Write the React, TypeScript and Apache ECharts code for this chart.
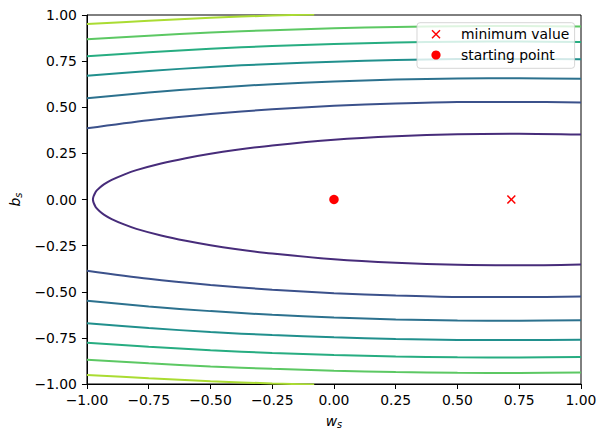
import React, { useEffect, useRef } from "react";
import * as echarts from "echarts";

// Tick values and labels (shared by both axes)
const TICK_VALUES = [-1, -0.75, -0.5, -0.25, 0, 0.25, 0.5, 0.75, 1];
const TICK_LABELS = ["\u22121.00", "\u22120.75", "\u22120.50", "\u22120.25", "0.00", "0.25", "0.50", "0.75", "1.00"];

// Contour colours (viridis levels)
const LEVEL_COLORS = ["#472c7a", "#3b518b", "#2c718e", "#21908d", "#27ad81", "#5cc863", "#aadc32"];

// Innermost closed contour (ellipse), [w_s, b_s]
const contour1 = [
  [1, 0.352], [0.75, 0.357], [0.5, 0.354], [0.25, 0.343], [0, 0.324], [-0.25, 0.293],
  [-0.4, 0.268], [-0.5, 0.248], [-0.6, 0.224], [-0.7, 0.195], [-0.8, 0.159], [-0.85, 0.135],
  [-0.9, 0.106], [-0.93, 0.083], [-0.95, 0.062], [-0.965, 0.041], [-0.976, 0],
  [-0.965, -0.041], [-0.95, -0.062], [-0.93, -0.083], [-0.9, -0.106], [-0.85, -0.135],
  [-0.8, -0.159], [-0.7, -0.195], [-0.6, -0.224], [-0.5, -0.248], [-0.4, -0.268],
  [-0.25, -0.293], [0, -0.324], [0.25, -0.343], [0.5, -0.354], [0.75, -0.357], [1, -0.352],
];

// Open contours, upper branches
const contour2Top = [[-1, 0.386], [-0.75, 0.43], [-0.5, 0.463], [-0.25, 0.489], [0, 0.508], [0.25, 0.52], [0.5, 0.528], [0.75, 0.529], [1, 0.526]];
const contour3Top = [[-1, 0.549], [-0.75, 0.58], [-0.5, 0.605], [-0.25, 0.625], [0, 0.64], [0.25, 0.65], [0.5, 0.656], [0.75, 0.657], [1, 0.655]];
const contour4Top = [[-1, 0.671], [-0.75, 0.697], [-0.5, 0.718], [-0.25, 0.735], [0, 0.747], [0.25, 0.756], [0.5, 0.761], [0.75, 0.762], [1, 0.76]];
const contour5Top = [[-1, 0.776], [-0.75, 0.798], [-0.5, 0.817], [-0.25, 0.832], [0, 0.843], [0.25, 0.851], [0.5, 0.855], [0.75, 0.856], [1, 0.854]];
const contour6Top = [[-1, 0.868], [-0.75, 0.888], [-0.5, 0.905], [-0.25, 0.918], [0, 0.928], [0.25, 0.935], [0.5, 0.939], [0.75, 0.94], [1, 0.938]];
const contour7Top = [[-1, 0.951], [-0.75, 0.969], [-0.5, 0.985], [-0.25, 0.997], [-0.17, 1.0], [-0.08, 1.003]];

// Open contours, lower branches
const contour2Bottom = [[-1, -0.386], [-0.75, -0.43], [-0.5, -0.463], [-0.25, -0.489], [0, -0.508], [0.25, -0.52], [0.5, -0.528], [0.75, -0.529], [1, -0.526]];
const contour3Bottom = [[-1, -0.549], [-0.75, -0.58], [-0.5, -0.605], [-0.25, -0.625], [0, -0.64], [0.25, -0.65], [0.5, -0.656], [0.75, -0.657], [1, -0.655]];
const contour4Bottom = [[-1, -0.671], [-0.75, -0.697], [-0.5, -0.718], [-0.25, -0.735], [0, -0.747], [0.25, -0.756], [0.5, -0.761], [0.75, -0.762], [1, -0.76]];
const contour5Bottom = [[-1, -0.776], [-0.75, -0.798], [-0.5, -0.817], [-0.25, -0.832], [0, -0.843], [0.25, -0.851], [0.5, -0.855], [0.75, -0.856], [1, -0.854]];
const contour6Bottom = [[-1, -0.868], [-0.75, -0.888], [-0.5, -0.905], [-0.25, -0.918], [0, -0.928], [0.25, -0.935], [0.5, -0.939], [0.75, -0.94], [1, -0.938]];
const contour7Bottom = [[-1, -0.951], [-0.75, -0.969], [-0.5, -0.985], [-0.25, -0.997], [-0.17, -1.0], [-0.08, -1.003]];

// Points
const minimumValue = [[0.718, 0]];
const startingPoint = [[0, 0]];

// Legend entries
const LEGEND_LABELS = ["minimum value", "starting point"];

const FONT = "DejaVu Sans";
const X_PATH = "path://M0,1.2L1.2,0L5,3.8L8.8,0L10,1.2L6.2,5L10,8.8L8.8,10L5,6.2L1.2,10L0,8.8L3.8,5Z";

const fmt = (v: number) => {
  const i = TICK_VALUES.findIndex((t) => Math.abs(t - v) < 1e-9);
  return i >= 0 ? TICK_LABELS[i] : "";
};

export default function App() {
  const ref = useRef<HTMLDivElement>(null);
  useEffect(() => {
    if (!ref.current) return;
    const chart = echarts.init(ref.current, undefined, { renderer: "svg" });
    const contours: { data: number[][]; level: number }[] = [
      { data: contour1, level: 0 },
      { data: contour2Top, level: 1 }, { data: contour2Bottom, level: 1 },
      { data: contour3Top, level: 2 }, { data: contour3Bottom, level: 2 },
      { data: contour4Top, level: 3 }, { data: contour4Bottom, level: 3 },
      { data: contour5Top, level: 4 }, { data: contour5Bottom, level: 4 },
      { data: contour6Top, level: 5 }, { data: contour6Bottom, level: 5 },
      { data: contour7Top, level: 6 }, { data: contour7Bottom, level: 6 },
    ];
    const axisCommon = {
      type: "value" as const,
      min: -1,
      max: 1,
      interval: 0.25,
      splitLine: { show: false },
      axisLine: { show: true, onZero: false, lineStyle: { color: "#000", width: 1 } },
      axisTick: { show: true, length: 5, lineStyle: { color: "#000", width: 1 } },
      axisLabel: { color: "#000", fontSize: 13.9, fontFamily: FONT, formatter: fmt },
    };
    const nameRich = {
      i: { fontFamily: FONT, fontStyle: "italic" as const, fontSize: 13.9, color: "#000" },
      s: { fontFamily: FONT, fontStyle: "italic" as const, fontSize: 9.7, color: "#000", padding: [7, 0, 0, 0] },
    };
    const legendLeft = 417;
    const legendTop = 22.7;
    const rowY = [34.3, 55];
    const markerX = 436;
    chart.setOption({
      animation: false,
      backgroundColor: "#fff",
      grid: { left: 86, right: 25, top: 15, bottom: 54, show: true, borderColor: "#000", borderWidth: 1, backgroundColor: "transparent" },
      xAxis: {
        ...axisCommon,
        axisLabel: { ...axisCommon.axisLabel, margin: 9 },
        name: "{i|w}{s|s}",
        nameLocation: "middle",
        nameGap: 28,
        nameTextStyle: { rich: nameRich },
      },
      yAxis: {
        ...axisCommon,
        axisLabel: { ...axisCommon.axisLabel, margin: 10 },
        name: "{i|b}{s|s}",
        nameLocation: "middle",
        nameGap: 60,
        nameTextStyle: { rich: nameRich },
      },
      graphic: [
        {
          type: "rect",
          z: 100,
          shape: { x: legendLeft, y: legendTop, width: 157.6, height: 45.6, r: 3 },
          style: { fill: "rgba(255,255,255,0.8)", stroke: "rgba(204,204,204,0.8)", lineWidth: 1 },
        },
        {
          type: "line",
          z: 101,
          shape: { x1: markerX - 4, y1: rowY[0] - 4, x2: markerX + 4, y2: rowY[0] + 4 },
          style: { stroke: "#ff0000", lineWidth: 1.4 },
        },
        {
          type: "line",
          z: 101,
          shape: { x1: markerX + 4, y1: rowY[0] - 4, x2: markerX - 4, y2: rowY[0] + 4 },
          style: { stroke: "#ff0000", lineWidth: 1.4 },
        },
        {
          type: "circle",
          z: 101,
          shape: { cx: markerX, cy: rowY[1], r: 4.6 },
          style: { fill: "#ff0000" },
        },
        ...LEGEND_LABELS.map((label, i) => ({
          type: "text" as const,
          z: 101,
          x: 461,
          y: rowY[i],
          style: { text: label, fill: "#000", font: `13.9px '${FONT}'`, verticalAlign: "middle", align: "left" },
        })),
      ],
      series: [
        ...contours.map((c, idx) => ({
          type: "line" as const,
          name: "contour" + idx,
          data: c.data,
          showSymbol: false,
          symbol: "none",
          smooth: 0.3,
          clip: true,
          lineStyle: { color: LEVEL_COLORS[c.level], width: 2 },
          z: 2,
        })),
        {
          type: "scatter",
          name: "minimum value",
          data: minimumValue,
          symbol: X_PATH,
          symbolSize: 9,
          itemStyle: { color: "#ff0000", opacity: 1 },
          z: 5,
        },
        {
          type: "scatter",
          name: "starting point",
          data: startingPoint,
          symbol: "circle",
          symbolSize: 9.5,
          itemStyle: { color: "#ff0000", opacity: 1 },
          z: 5,
        },
      ],
    });
    return () => chart.dispose();
  }, []);
  return <div ref={ref} style={{ position: "absolute", left: 0, top: 0, width: 606, height: 438 }} />;
}
